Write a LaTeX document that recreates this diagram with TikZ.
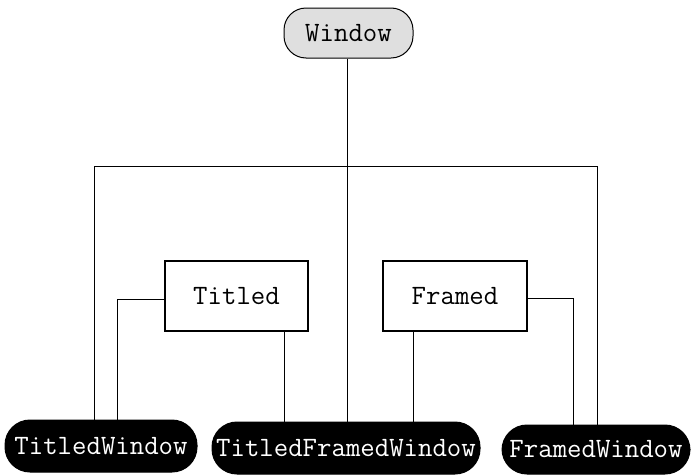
\documentclass[tikz,border=0pt]{standalone}
\usepackage{fontspec}
\begin{document}
\begin{tikzpicture}[x=1pt,y=-1pt,
  lbl/.style={font=\ttfamily\fontsize{28}{28}\selectfont, inner sep=0pt},
  pill/.style={lbl, draw=black, fill=black, text=white, rounded corners=25pt, line width=1pt},
  topnode/.style={lbl, draw=black, fill=gray!25, rounded corners=22pt, line width=1pt},
  plainbox/.style={lbl, draw=black, fill=white, line width=1.2pt},
  conn/.style={draw=black, line width=0.9pt}]
\useasboundingbox (0,0) rectangle (692,474);
\node[topnode, minimum width=129pt, minimum height=50pt] (win) at (348.5,33) {Window};
\node[plainbox, minimum width=143pt, minimum height=70pt] (titled) at (236.5,296) {Titled};
\node[plainbox, minimum width=144pt, minimum height=70pt] (framed) at (455,296) {Framed};
\node[pill, minimum width=192pt, minimum height=52pt] (tw) at (101,446) {TitledWindow};
\node[pill, minimum width=268pt, minimum height=52pt] (tfw) at (346,448) {TitledFramedWindow};
\node[pill, minimum width=188pt, minimum height=49pt] (fw) at (596,449.5) {FramedWindow};
\coordinate (jl) at (94,166);
\coordinate (jr) at (597,166);
\coordinate (jm) at (347,166);
\coordinate (tl) at (117,299);
\coordinate (fr) at (573,298);
\coordinate (tb) at (284,0);
\coordinate (fb) at (413,0);
% main tree
\draw[conn] (win.south -| jm) -- (jm |- tfw.north);
\draw[conn] (jm) -- (jl) -- (jl |- tw.north);
\draw[conn] (jm) -- (jr) -- (jr |- fw.north);
% Titled / Framed
\draw[conn] (titled.west |- tl) -- (tl) -- (tl |- tw.north);
\draw[conn] (titled.south -| tb) -- (tb |- tfw.north);
\draw[conn] (framed.south -| fb) -- (fb |- tfw.north);
\draw[conn] (framed.east |- fr) -- (fr) -- (fr |- fw.north);
\end{tikzpicture}
\end{document}
